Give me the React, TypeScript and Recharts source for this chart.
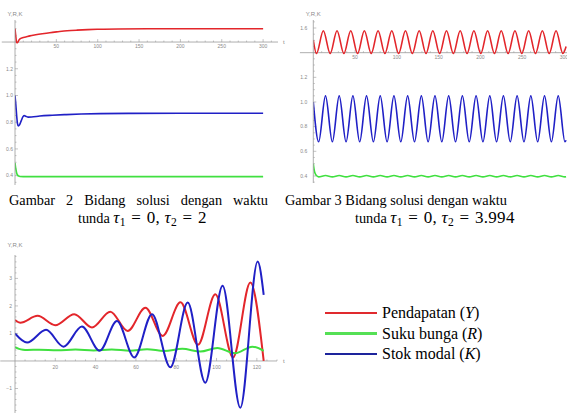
import React from "react";
import { LineChart, Line, XAxis, YAxis, ReferenceLine, Legend } from "recharts";

// Gambar 2: tau1 = 0, tau2 = 2   ([t, value])
const Y_FIG2 = [[0, 1.5], [1, 1.44], [2, 1.395], [3, 1.395], [4.5, 1.412], [6, 1.424], [9, 1.432], [13, 1.438], [18, 1.446], [25, 1.454], [33, 1.462], [42, 1.47], [52, 1.477], [63, 1.484], [75, 1.489], [88, 1.493], [103, 1.496], [125, 1.498], [160, 1.499], [220, 1.5], [300, 1.5]];
const R_FIG2 = [[0, 0.495], [1, 0.45], [2, 0.42], [3, 0.405], [4.5, 0.397], [6, 0.394], [10, 0.393], [300, 0.393]];
const K_FIG2 = [[0, 1.0], [1, 0.93], [2, 0.85], [3, 0.79], [4, 0.772], [5.5, 0.78], [7.5, 0.81], [9.5, 0.84], [11, 0.849], [13, 0.845], [16, 0.838], [20, 0.839], [30, 0.846], [45, 0.852], [62, 0.857], [80, 0.861], [103, 0.864], [140, 0.866], [200, 0.867], [300, 0.867]];

// Gambar 3: tau1 = 0, tau2 = 3.994 (peaks / troughs)
const Y_FIG3 = [[0, 1.502], [3.8, 1.393], [12.0, 1.578], [20.2, 1.393], [28.4, 1.578], [36.6, 1.393], [44.8, 1.578], [53.0, 1.393], [61.1, 1.578], [69.3, 1.393], [77.5, 1.578], [85.7, 1.393], [93.9, 1.578], [102.1, 1.393], [110.3, 1.578], [118.5, 1.393], [126.7, 1.578], [134.9, 1.393], [143.0, 1.578], [151.2, 1.393], [159.4, 1.578], [167.6, 1.393], [175.8, 1.578], [184.0, 1.393], [192.2, 1.578], [200.4, 1.393], [208.6, 1.578], [216.8, 1.393], [224.9, 1.578], [233.1, 1.393], [241.3, 1.578], [249.5, 1.393], [257.7, 1.578], [265.9, 1.393], [274.1, 1.578], [282.3, 1.393], [290.5, 1.578], [298.7, 1.393], [302.5, 1.45]];
const R_FIG3 = [[0, 0.5], [1, 0.452], [2, 0.424], [3.5, 0.405], [6.4, 0.393], [14.6, 0.404], [22.8, 0.393], [31.0, 0.404], [39.2, 0.393], [47.4, 0.404], [55.5, 0.393], [63.7, 0.404], [71.9, 0.393], [80.1, 0.404], [88.3, 0.393], [96.5, 0.404], [104.7, 0.393], [112.9, 0.404], [121.1, 0.393], [129.3, 0.404], [137.4, 0.393], [145.6, 0.404], [153.8, 0.393], [162.0, 0.404], [170.2, 0.393], [178.4, 0.404], [186.6, 0.393], [194.8, 0.404], [203.0, 0.393], [211.2, 0.404], [219.3, 0.393], [227.5, 0.404], [235.7, 0.393], [243.9, 0.404], [252.1, 0.393], [260.3, 0.404], [268.5, 0.393], [276.7, 0.404], [284.9, 0.393], [293.1, 0.404], [301.2, 0.393], [302.5, 0.394]];
const K_FIG3 = [[0, 1.0], [6.4, 0.677], [14.6, 1.05], [22.8, 0.677], [31.0, 1.05], [39.2, 0.677], [47.4, 1.05], [55.5, 0.677], [63.7, 1.05], [71.9, 0.677], [80.1, 1.05], [88.3, 0.677], [96.5, 1.05], [104.7, 0.677], [112.9, 1.05], [121.1, 0.677], [129.3, 1.05], [137.4, 0.677], [145.6, 1.05], [153.8, 0.677], [162.0, 1.05], [170.2, 0.677], [178.4, 1.05], [186.6, 0.677], [194.8, 1.05], [203.0, 0.677], [211.2, 1.05], [219.3, 0.677], [227.5, 1.05], [235.7, 0.677], [243.9, 1.05], [252.1, 0.677], [260.3, 1.05], [268.5, 0.677], [276.7, 1.05], [284.9, 0.677], [293.1, 1.05], [301.2, 0.677], [302.5, 0.69]];

// Gambar 4 (growing oscillation)
const Y_FIG4 = [[0, 1.49], [2.6, 1.39], [11.2, 1.64], [20, 1.3], [29.4, 1.7], [38.2, 1.22], [47.3, 1.79], [55.9, 1.09], [64.7, 1.93], [73.3, 0.91], [82.1, 2.13], [90.8, 0.59], [99.4, 2.42], [108.2, 0.13], [116.8, 2.85], [123.4, 0.0]];
const R_FIG4 = [[0, 0.5], [2, 0.44], [4, 0.41], [6, 0.4], [12, 0.41], [21, 0.39], [30, 0.415], [39, 0.385], [48, 0.42], [57, 0.375], [65.5, 0.43], [74, 0.365], [83, 0.44], [92, 0.34], [100.4, 0.47], [109.2, 0.28], [117.8, 0.52], [123.4, 0.37]];
const K_FIG4 = [[0, 1.0], [6, 0.67], [15.4, 1.13], [24.1, 0.52], [33.2, 1.25], [42, 0.37], [50.6, 1.45], [59.2, 0.13], [68, 1.7], [77.1, -0.23], [85.7, 2.12], [94.4, -0.79], [103, 2.73], [111.8, -1.7], [120.4, 3.61], [123.4, 2.4]];

const SERIES_NAMES = ["Pendapatan (Y)", "Suku bunga (R)", "Stok modal (K)"];
const SERIES_COLORS = ["#e3262b", "#40e040", "#2020c6"];
const LEGEND_COLORS = ["#e02a2e", "#55e055", "#1d249c"];

const X_TICKS_300 = [50, 100, 150, 200, 250, 300];
const X_TICKS_120 = [20, 40, 60, 80, 100, 120];
const Y_TICKS_FIG2 = [0.4, 0.6, 0.8, 1.0, 1.2];
const Y_TICKS_FIG3 = [0.4, 0.6, 0.8, 1.0, 1.2, 1.6];
const Y_TICKS_FIG4 = [-1, 1, 2, 3];

const AXIS = "#9a9a9a";
const TICK_FILL = "#8a8a8a";
const TICK_FONT = "'Liberation Sans', Arial, sans-serif";
const SERIF = "'Liberation Serif', 'Times New Roman', serif";

const toPts = (arr: number[][]) => arr.map(([t, v]) => ({ t, v }));
const r3 = (n: number) => Math.round(n * 1000) / 1000;

// Mathematica-style x axis drawn at y0 with ticks pointing up
function xAxisMarks(id: string, y0: number, from: number, to: number, labels: number[], minor: number, len: number, offset: number) {
  const els: React.ReactNode[] = [
    <ReferenceLine key={`${id}-ax`} segment={[{ x: from, y: y0 }, { x: to, y: y0 }]} stroke={AXIS} strokeWidth={0.8} ifOverflow="visible" />,
  ];
  for (let i = 1; i * minor <= to; i++) {
    const t = r3(i * minor);
    const major = labels.includes(t);
    els.push(
      <ReferenceLine
        key={`${id}-x${t}`}
        segment={[{ x: t, y: y0 }, { x: t, y: y0 + (major ? len : len / 2) }]}
        stroke={AXIS}
        strokeWidth={0.6}
        ifOverflow="visible"
        label={major ? { value: String(t), position: "bottom", offset, fontSize: 5, fill: TICK_FILL, fontFamily: TICK_FONT } : undefined}
      />
    );
  }
  return els;
}

// small ticks on the y axis pointing right
function yAxisMarks(id: string, from: number, to: number, step: number, majors: number[], len: number) {
  const els: React.ReactNode[] = [];
  for (let i = 0; from + i * step <= to + 1e-9; i++) {
    const v = r3(from + i * step);
    if (v === 0) continue;
    const major = majors.includes(v);
    els.push(
      <ReferenceLine key={`${id}-y${v}`} segment={[{ x: 0, y: v }, { x: major ? len : len / 2, y: v }]} stroke={AXIS} strokeWidth={0.6} ifOverflow="visible" />
    );
  }
  return els;
}

function seriesLines(data: number[][][], width: number) {
  return data.map((d, i) => (
    <Line
      key={SERIES_NAMES[i]}
      name={SERIES_NAMES[i]}
      data={toPts(d)}
      dataKey="v"
      type="monotone"
      stroke={SERIES_COLORS[i]}
      strokeWidth={width}
      dot={false}
      activeDot={false}
      isAnimationActive={false}
    />
  ));
}

function LegendBox({ payload }: { payload?: { value: string }[] }) {
  const items = [...(payload ?? [])].sort((a, b) => SERIES_NAMES.indexOf(a.value) - SERIES_NAMES.indexOf(b.value));
  return (
    <div style={{ fontFamily: SERIF, fontSize: 16, color: "#000" }}>
      {items.map((p) => {
        const i = SERIES_NAMES.indexOf(p.value);
        const m = p.value.match(/^(.*)\((\w)\)$/);
        return (
          <div key={p.value} style={{ display: "flex", alignItems: "center", height: 20.35 }}>
            <span style={{ display: "inline-block", width: 52, height: 2.5, background: LEGEND_COLORS[i], marginRight: 5 }} />
            <span style={{ whiteSpace: "nowrap" }}>
              {m ? m[1] : p.value}({m ? <i>{m[2]}</i> : null})
            </span>
          </div>
        );
      })}
    </div>
  );
}

function Tau({ i }: { i: string }) {
  return (
    <>
      <i>τ</i>
      <span style={{ fontSize: "0.68em", position: "relative", top: "0.25em" }}>{i}</span>
    </>
  );
}

function Eq({ children }: { children: React.ReactNode }) {
  return <span style={{ margin: "0 5.5px" }}>{children}</span>;
}

function MathPart({ value }: { value: string }) {
  return (
    <span style={{ fontSize: 17, letterSpacing: 0.3 }}>
      <Tau i="1" />
      <Eq>=</Eq>0,&nbsp;
      <Tau i="2" />
      <Eq>=</Eq>
      {value}
    </span>
  );
}

const yAxisProps = (ticks: number[], margin: number) => ({
  type: "number" as const,
  ticks,
  interval: 0 as const,
  allowDataOverflow: true,
  tickFormatter: (v: number) => (Number.isInteger(v) && Math.abs(v) >= 1 && ticks.length === 4 ? (v < 0 ? `\u2212${-v}` : String(v)) : v.toFixed(1)),
  tick: { fontSize: 5, fill: TICK_FILL, fontFamily: TICK_FONT },
  tickSize: 0,
  tickMargin: margin,
  tickLine: false,
  axisLine: { stroke: AXIS, strokeWidth: 0.8 },
});

export default function App() {
  return (
    <div style={{ position: "absolute", left: 0, top: 0, width: 567, height: 413, background: "#fff", overflow: "hidden", fontFamily: SERIF }}>
      {/* Gambar 2 */}
      <div style={{ position: "absolute", left: 0, top: 0 }}>
        <LineChart width={282} height={195} margin={{ top: 20, right: 4, bottom: 10, left: 0 }}>
          <XAxis type="number" dataKey="t" domain={[0, 318]} hide allowDataOverflow />
          <YAxis {...yAxisProps(Y_TICKS_FIG2, 2)} domain={[0.33, 1.565]} width={15} />
          {xAxisMarks("a", 1.4, -16, 318, X_TICKS_300, 10, 0.022, 2.5)}
          {yAxisMarks("a", 0.35, 1.55, 0.05, [0.4, 0.6, 0.8, 1.0, 1.2, 1.4], 3.6)}
          {seriesLines([Y_FIG2, R_FIG2, K_FIG2], 1.6)}
        </LineChart>
      </div>

      {/* Gambar 3 */}
      <div style={{ position: "absolute", left: 280, top: 0 }}>
        <LineChart width={287} height={195} margin={{ top: 20, right: 0, bottom: 12, left: 0 }}>
          <XAxis type="number" dataKey="t" domain={[0, 303.6]} hide allowDataOverflow />
          <YAxis {...yAxisProps(Y_TICKS_FIG3, 6)} domain={[0.343, 1.665]} width={33.3} />
          {xAxisMarks("b", 1.4, -16, 303.6, X_TICKS_300, 10, 0.024, 2.5)}
          {yAxisMarks("b", 0.35, 1.65, 0.05, [0.4, 0.6, 0.8, 1.0, 1.2, 1.4, 1.6], 3.6)}
          {seriesLines([Y_FIG3, R_FIG3, K_FIG3], 1.6)}
        </LineChart>
      </div>

      {/* Gambar 4 with legend */}
      <div style={{ position: "absolute", left: 0, top: 250 }}>
        <LineChart width={567} height={163} margin={{ top: 5, right: 290, bottom: 0, left: 0 }}>
          <XAxis type="number" dataKey="t" domain={[0, 130]} hide allowDataOverflow />
          <YAxis {...yAxisProps(Y_TICKS_FIG4, 3)} domain={[-1.89, 3.85]} width={15} />
          {xAxisMarks("c", 0, -7.3, 130, X_TICKS_120, 5, 0.11, 4)}
          {yAxisMarks("c", -1.8, 3.8, 0.2, Y_TICKS_FIG4, 1.5)}
          {seriesLines([Y_FIG4, R_FIG4, K_FIG4], 2)}
          <Legend
            layout="horizontal"
            verticalAlign="middle"
            align="center"
            content={(props: any) => <LegendBox payload={props.payload} />}
            wrapperStyle={{ left: 325, top: 53, width: 220 }}
          />
        </LineChart>
      </div>

      {/* axis titles */}
      <svg width={567} height={413} style={{ position: "absolute", left: 0, top: 0, pointerEvents: "none" }}>
        <g fontFamily={TICK_FONT} fontSize={6} fill={TICK_FILL}>
          <text x={15} y={16} textAnchor="middle">Y,R,K</text>
          <text x={313.3} y={16} textAnchor="middle">Y,R,K</text>
          <text x={15} y={247} textAnchor="middle">Y,R,K</text>
          <text x={283} y={44}>t</text>
          <text x={283} y={363}>t</text>
        </g>
      </svg>

      {/* captions */}
      <div style={{ position: "absolute", left: 9, top: 191, width: 259, fontSize: 14.3, lineHeight: "18px", display: "flex", justifyContent: "space-between" }}>
        {["Gambar", "2", "Bidang", "solusi", "dengan", "waktu"].map((w) => (
          <span key={w}>{w}</span>
        ))}
      </div>
      <div style={{ position: "absolute", left: 78, top: 209, fontSize: 14.3, lineHeight: "18px", whiteSpace: "nowrap" }}>
        tunda <MathPart value="2" />
      </div>
      <div style={{ position: "absolute", left: 285, top: 191, fontSize: 14.3, lineHeight: "18px", whiteSpace: "nowrap" }}>
        Gambar 3 Bidang solusi dengan waktu
      </div>
      <div style={{ position: "absolute", left: 355, top: 209, fontSize: 14.3, lineHeight: "18px", whiteSpace: "nowrap" }}>
        tunda <MathPart value="3.994" />
      </div>
    </div>
  );
}
